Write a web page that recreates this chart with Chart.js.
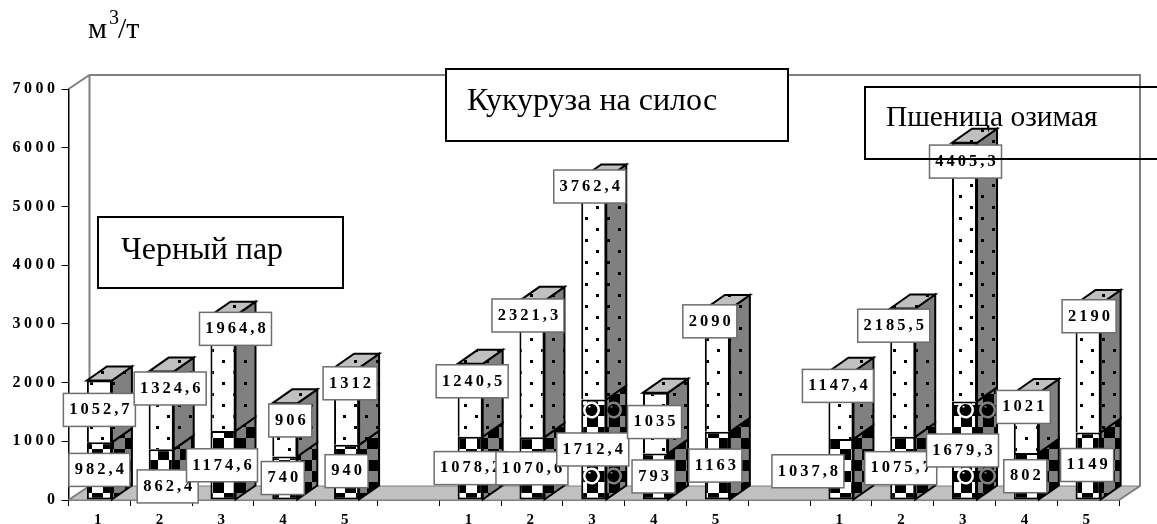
<!DOCTYPE html>
<html><head><meta charset="utf-8">
<style>html,body{margin:0;padding:0;background:#fff;overflow:hidden}canvas{display:block}</style>
<script src="https://cdn.jsdelivr.net/npm/chart.js@4/dist/chart.umd.min.js"></script>
</head><body>
<canvas id="c" width="1157" height="524"></canvas>
<script>
const categories = ['1','2','3','4','5','','1','2','3','4','5','','1','2','3','4','5'];
const lowerValues = [982.4,862.4,1174.6,740,940,null,1078.2,1070.6,1712.4,793,1163,null,1037.8,1075.7,1679.3,802,1149];
const upperValues = [1052.7,1324.6,1964.8,906,1312,null,1240.5,2321.3,3762.4,1035,2090,null,1147.4,2185.5,4405.3,1021,2190];
const yTicks = [0,1000,2000,3000,4000,5000,6000,7000];
const captions = ['Черный пар','Кукуруза на силос','Пшеница озимая'];
const unitText = ['м','3','/т'];

// label box shifts, relative to the centre of the bar segment they belong to
const lowerShiftX = [0,6.5,-1,-2,0,0,0,0,-1,-2,-2,0,-33,-2,-2,-1,-1];
const lowerShiftY = [-1,12,0,0,-1,0,0,0,0,0,0,0,2,0,0,0,-1];
const upperShiftX = [0,9,12.5,5.5,3.5,0,2,-4,-4,-1,-7.5,0,-3,-9,1,-3,1];
const upperShiftY = [-1.5,-22,-44.5,-9.5,-23,0,-19,-53.5,-102.5,-1,-49,0,-19.5,-47,-110.5,-16,-52];

const SERIF = '"Liberation Serif","Times New Roman",serif';
const DX = 21, DY = 14, SIDE = 20;

function tile(w,h,draw){const c=document.createElement('canvas');c.width=w;c.height=h;const x=c.getContext('2d');draw(x);return c;}
const mainCtx = document.getElementById('c').getContext('2d');
function dots(base){return mainCtx.createPattern(tile(22,22,x=>{x.fillStyle=base;x.fillRect(0,0,22,22);x.fillStyle='#000';x.fillRect(2,8,3,3);x.fillRect(13,19,3,3);}),'repeat');}
function checkerBody(x,base,h){x.fillStyle=base;x.fillRect(0,0,22,h);x.fillStyle='#000';
  for(let r=0;r<h/11;r++){const ox=((r%2)*11+4)%22, y=(r*11+9)%h;
    for(const sx of [ox,ox-22]){ for(const sy of [y,y-h]) x.fillRect(sx,sy,11,11);} }}
function checker(base){return mainCtx.createPattern(tile(22,22,x=>checkerBody(x,base,22)),'repeat');}
function ringed(base){return mainCtx.createPattern(tile(22,66,x=>{checkerBody(x,base,66);
  const cx=19.5,cy=14;for(const ox of [cx,cx-22]){x.fillStyle=base;x.beginPath();x.arc(ox,cy,8.5,0,7);x.fill();x.fillStyle='#000';x.beginPath();x.arc(ox,cy,6,0,7);x.fill();
  x.fillStyle=base;x.fillRect(ox-3,cy-4,2,1.5);}
}),'repeat');}
const P={upFront:dots('#fff'),upSide:dots('#808080'),top:dots('#c0c0c0'),
  lowFront:checker('#fff'),lowSide:checker('#808080'),ringFront:ringed('#fff'),ringSide:ringed('#808080')};
const TALL=1500;

function poly(ctx,pts,fill,stroke,lw){ctx.beginPath();pts.forEach((p,i)=>i?ctx.lineTo(p[0],p[1]):ctx.moveTo(p[0],p[1]));ctx.closePath();
  if(fill){ctx.fillStyle=fill;ctx.fill();} if(stroke){ctx.strokeStyle=stroke;ctx.lineWidth=lw;ctx.lineJoin='miter';ctx.stroke();}}

const scene={id:'scene',
  beforeDraw(ch){ch.ctx.letterSpacing='3.5px';},
  beforeDatasetsDraw(ch){const c=ch.ctx,a=ch.chartArea;c.save();
    poly(c,[[a.left,a.bottom],[a.left+DX,a.bottom-DY],[a.right+DX,a.bottom-DY],[a.right,a.bottom]],'#c0c0c0','#808080',1);
    c.strokeStyle='#808080';c.lineWidth=2;c.beginPath();
    c.moveTo(a.left,a.top);c.lineTo(a.left+DX,a.top-DY);c.lineTo(a.right+DX,a.top-DY);c.lineTo(a.right+DX,a.bottom-DY);c.lineTo(a.right,a.bottom);
    c.moveTo(a.left+DX,a.top-DY);c.lineTo(a.left+DX,a.bottom-DY);c.lineTo(a.left,a.bottom);c.stroke();c.restore();},
  afterDatasetsDraw(ch){const c=ch.ctx;c.save();
    const m0=ch.getDatasetMeta(0).data,m1=ch.getDatasetMeta(1).data;
    categories.forEach((_,i)=>{ if(lowerValues[i]==null) return;
      const lo=m0[i],up=m1[i],r=lo.x+lo.width/2,l=lo.x-lo.width/2;
      const tall=lowerValues[i]>TALL;
      poly(c,[[r,lo.base],[r+SIDE,lo.base-DY],[r+SIDE,lo.y-DY],[r,lo.y]],tall?P.ringSide:P.lowSide,'#000',2);
      poly(c,[[r,up.base],[r+SIDE,up.base-DY],[r+SIDE,up.y-DY],[r,up.y]],P.upSide,'#000',2);
      poly(c,[[l,up.y],[l+SIDE,up.y-DY],[r+SIDE,up.y-DY],[r,up.y]],P.top,'#000',2);
    });
    // value labels
    c.font='bold 16.5px '+SERIF;c.letterSpacing='3px';c.textAlign='center';c.textBaseline='middle';
    const box=(el,v,sx,sy)=>{const t=String(v).replace('.',',');const w=Math.round(c.measureText(t).width+9),h=33;
      const cx=el.x+sx,cy=(el.y+el.base)/2+sy;
      c.fillStyle='#fff';c.fillRect(cx-w/2,cy-h/2,w,h);c.strokeStyle='#6e6e6e';c.lineWidth=1.5;c.strokeRect(cx-w/2,cy-h/2,w,h);
      c.fillStyle='#000';c.fillText(t,cx+1.5,cy);};
    categories.forEach((_,i)=>{if(lowerValues[i]!=null) box(m0[i],lowerValues[i],lowerShiftX[i],lowerShiftY[i]);});
    categories.forEach((_,i)=>{if(upperValues[i]!=null) box(m1[i],upperValues[i],upperShiftX[i],upperShiftY[i]);});
    c.restore();
  },
  afterDraw(ch){const c=ch.ctx;c.save();c.letterSpacing='0px';c.textAlign='left';c.textBaseline='alphabetic';c.fillStyle='#000';
    // captions
    c.strokeStyle='#000';c.lineWidth=2;
    c.fillStyle='#fff';c.fillRect(98,217,245,71);c.strokeRect(98,217,245,71);
    c.fillRect(446,69,342,72);c.strokeRect(446,69,342,72);
    c.strokeRect(865,87,300,72);
    c.fillStyle='#000';
    c.font='32px '+SERIF;c.fillText(captions[0],121,259);
    c.font='32px '+SERIF;c.fillText(captions[1],467,110);
    c.font='29.4px '+SERIF;c.fillText(captions[2],886,126);
    // unit
    c.font='30px '+SERIF;c.fillText(unitText[0],88,38);
    c.font='20px '+SERIF;c.fillText(unitText[1],109,24);
    c.font='30px '+SERIF;c.fillText(unitText[2],118,38);
    c.restore();c.letterSpacing='0px';}
};

new Chart(document.getElementById('c'),{
  type:'bar',
  data:{labels:categories,datasets:[
    {label:'lower',data:lowerValues,backgroundColor:ctx=>ctx.raw>TALL?P.ringFront:P.lowFront,borderColor:'#000',borderWidth:2,borderSkipped:false},
    {label:'upper',data:upperValues,backgroundColor:P.upFront,borderColor:'#000',borderWidth:2,borderSkipped:'bottom'}
  ]},
  plugins:[scene],
  options:{responsive:false,animation:false,devicePixelRatio:1,
    layout:{padding:{left:0,right:38,top:89,bottom:0}},
    categoryPercentage:.405,barPercentage:1,
    plugins:{legend:{display:false},tooltip:{enabled:false},title:{display:false}},
    scales:{
      x:{stacked:true,offset:true,
        afterFit(s){s.height=24;s.paddingLeft=0;s.paddingRight=0;},
        grid:{drawOnChartArea:false,drawTicks:true,tickLength:6,tickColor:'#000',offset:true},
        border:{color:'#000',width:1.5},
        ticks:{autoSkip:false,maxRotation:0,minRotation:0,padding:5,color:'#000',font:{family:SERIF,weight:'bold',size:15}}},
      y:{stacked:true,min:0,max:7000,
        afterFit(s){s.width=68.5;s.paddingTop=0;s.paddingBottom=0;},
        afterBuildTicks(s){s.ticks=yTicks.map(v=>({value:v}));},
        grid:{drawOnChartArea:false,drawTicks:true,tickLength:7,tickColor:'#000'},
        border:{color:'#000',width:1.5},
        ticks:{padding:3,color:'#000',font:{family:SERIF,weight:'bold',size:16},callback:v=>String(v)}}
    }}
});
</script>
</body></html>
